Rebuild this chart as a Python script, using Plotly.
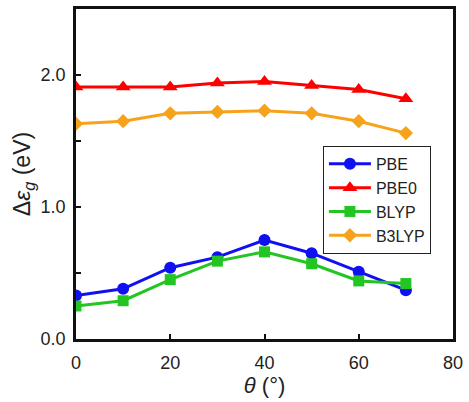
import plotly.graph_objects as go

# Twist angle (degrees)
theta = [0, 10, 20, 30, 40, 50, 60, 70]

# Band-gap change per functional (eV)
pbe = [0.33, 0.38, 0.54, 0.62, 0.75, 0.65, 0.51, 0.37]
pbe0 = [1.91, 1.91, 1.91, 1.94, 1.95, 1.92, 1.89, 1.82]
blyp = [0.25, 0.29, 0.45, 0.59, 0.66, 0.57, 0.44, 0.42]
b3lyp = [1.63, 1.65, 1.71, 1.72, 1.73, 1.71, 1.65, 1.56]

series = [
    ("PBE", pbe, "#1010f0", "circle", 12),
    ("PBE0", pbe0, "#ff0000", "triangle-up", 13),
    ("BLYP", blyp, "#22c522", "square", 11),
    ("B3LYP", b3lyp, "#f7a21b", "diamond", 11),
]

fig = go.Figure()
for name, vals, color, symbol, size in series:
    fig.add_trace(go.Scatter(
        x=theta, y=vals, name=name, mode="lines+markers",
        line=dict(color=color, width=3),
        marker=dict(symbol=symbol, size=size, color=color),
    ))

base_font = dict(family="Liberation Sans, Arial, sans-serif", size=18, color="#222")

fig.update_layout(
    width=469, height=402,
    margin=dict(l=76, r=12, t=6, b=63),
    paper_bgcolor="white", plot_bgcolor="white",
    font=base_font,
    showlegend=True,
    legend=dict(
        x=0.655, y=0.585, xanchor="left", yanchor="top",
        bgcolor="white", bordercolor="#222", borderwidth=1,
        font=dict(family="Liberation Sans, Arial, sans-serif", size=16, color="#222"),
        tracegroupgap=0, itemwidth=42,
    ),
    xaxis=dict(
        range=[0, 80], dtick=20, tick0=0, ticks="inside", ticklen=5, tickwidth=2,
        tickcolor="#111", showgrid=False, zeroline=False, ticklabelstandoff=6,
        tickfont=dict(size=18),
        showline=True, linecolor="#111", linewidth=2.5, mirror=True,
        title=dict(text="<i>θ</i> (°)", font=dict(size=22), standoff=6),
    ),
    yaxis=dict(
        range=[0, 2.5], dtick=1.0, tick0=0, tickformat=".1f",
        ticks="inside", ticklen=5, tickwidth=2, tickcolor="#111",
        minor=dict(dtick=0.5, ticks="inside", ticklen=5, tickwidth=2, tickcolor="#111"),
        showgrid=False, zeroline=False, ticklabelstandoff=4,
        tickfont=dict(size=18),
        showline=True, linecolor="#111", linewidth=2.5, mirror=True,
        title=dict(text="Δ<i>ε</i><sub><i>g</i></sub> (eV)", font=dict(size=23), standoff=4),
    ),
)

fig.write_html("out.html")
